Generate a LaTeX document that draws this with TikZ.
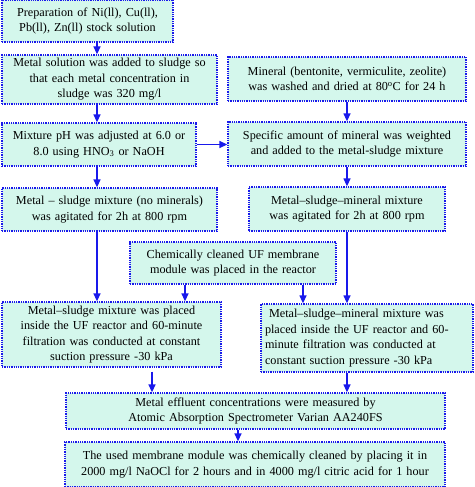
\documentclass[tikz,border=0pt]{standalone}
\usepackage{fontspec}
\setmainfont{Liberation Serif}
\usepackage{xcolor}
\usetikzlibrary{arrows.meta}
\usetikzlibrary{positioning}
\definecolor{boxfill}{RGB}{212,247,236}
\definecolor{lineblue}{RGB}{25,25,235}
\tikzset{
	stepbox/.style={draw=lineblue, densely dotted, line width=1.3pt, fill=boxfill, inner sep=0pt, align=center, font=\fontsize{12.2}{15.5}\selectfont},
	flow/.style={draw=lineblue, line width=1.3pt, -{Triangle[length=8pt,width=7pt]}}
}
\begin{document}
\begin{tikzpicture}[x=1pt,y=-1pt]
					\useasboundingbox (0,0) rectangle (474,487);
					%left column
					\node[stepbox, minimum width=171, minimum height=42, text width=167] (prep) at (87.5,21) {Preparation of Ni(ll), Cu(ll),\\ Pb(ll), Zn(ll) stock solution};
					\node[stepbox, minimum width=215, minimum height=49, text width=211] (sol) at (109.5,79.5) {Metal solution was added to sludge so\\ that each metal concentration in\\ sludge was 320 mg/l};
					\node[stepbox, minimum width=194, minimum height=43, text width=190] (ph) at (99,144.5) {Mixture pH was adjusted at 6.0 or\\ 8.0 using HNO\textsubscript{3} or NaOH};
					\node[stepbox, minimum width=215, minimum height=43, text width=211] (agit) at (109.5,209.5) {Metal -- sludge mixture (no minerals)\\ was agitated for 2h at 800 rpm};
					%right column
					\node[stepbox, minimum width=238, minimum height=44, text width=234] (mineral) at (347,79) {Mineral (bentonite, vermiculite, zeolite)\\ was washed and dried at 80\textsuperscript{o}C for 24 h};
					\node[stepbox, minimum width=238, minimum height=44, text width=234] (spec) at (347,144) {Specific amount of mineral was weighted\\ and added to the metal-sludge mixture};
					\node[stepbox, minimum width=196, minimum height=44, text width=192] (agitmin) at (347,209) {Metal--sludge--mineral mixture\\ was agitated for 2h at 800 rpm};
					%membrane
					\node[stepbox, minimum width=206, minimum height=42, text width=202] (memb) at (233,263) {Chemically cleaned UF membrane\\ module was placed in the reactor};
					%filtration
					\node[stepbox, minimum width=219, minimum height=65, text width=215] (filt) at (111.5,334.5) {Metal--sludge mixture was placed\\ inside the UF reactor and 60-minute\\ filtration was conducted at constant\\ suction pressure -30 kPa};
					\node[stepbox, align=left, minimum width=212, minimum height=68, text width=204] (filtmin) at (367,338) {\hspace{4pt}Metal--sludge--mineral mixture was\\ placed inside the UF reactor and 60-\\ minute filtration was conducted at\\ constant suction pressure -30 kPa};
					%bottom
					\node[stepbox, minimum width=379, minimum height=36, text width=375] (meas) at (255.5,411) {Metal effluent concentrations were measured by\\ Atomic Absorption Spectrometer Varian AA240FS};
					\node[stepbox, minimum width=380, minimum height=45, text width=376] (clean) at (255,464.5) {The used membrane module was chemically cleaned by placing it in\\ 2000 mg/l NaOCl for 2 hours and in 4000 mg/l citric acid for 1 hour};
					%arrow columns
					\coordinate (colA) at (97,0);
					\coordinate (colB) at (347,0);
					\coordinate (colC) at (185,0);
					\coordinate (colD) at (303,0);
					\coordinate (colE) at (152,0);
					\coordinate (colF) at (238,0);
					%draw arrows
					\draw[flow] (prep.south -| colA) -- (sol.north -| colA);
					\draw[flow] (sol.south -| colA) -- (ph.north -| colA);
					\draw[flow] (ph.south -| colA) -- (agit.north -| colA);
					\draw[flow] (agit.south -| colA) -- (filt.north -| colA);
					\draw[flow] (ph.east) -- (ph.east -| spec.west);
					\draw[flow] (mineral.south -| colB) -- (spec.north -| colB);
					\draw[flow] (spec.south -| colB) -- (agitmin.north -| colB);
					\draw[flow] (agitmin.south -| colB) -- (filtmin.north -| colB);
					\draw[flow] (memb.south -| colC) -- (filt.north -| colC);
					\draw[flow] (memb.south -| colD) -- (filtmin.north -| colD);
					\draw[flow] ([yshift=-4pt]filt.south -| colE) -- (meas.north -| colE);
					\draw[flow] (filtmin.south -| colB) -- (meas.north -| colB);
					\draw[flow] (meas.south -| colF) -- (clean.north -| colF);
				\end{tikzpicture}
\end{document}
